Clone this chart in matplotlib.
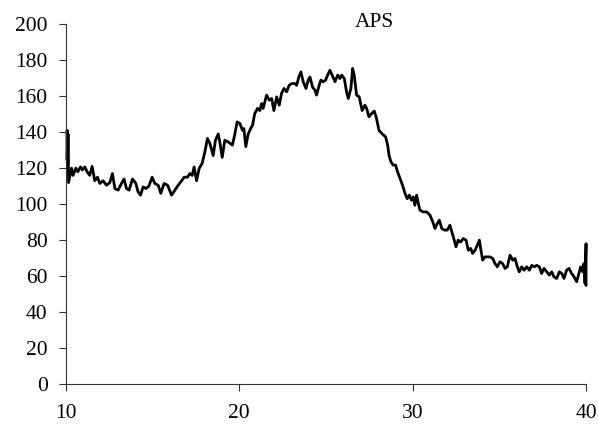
import matplotlib
matplotlib.use('Agg')
import matplotlib.pyplot as plt

# APS trace, values
time = [10.06, 10.08, 10.11, 10.13, 10.16, 10.33, 10.42, 10.58, 10.69, 10.85,
        10.96, 11.10, 11.23, 11.38, 11.52, 11.67, 11.83, 11.96, 12.15, 12.35,
        12.54, 12.69, 12.83, 13.02, 13.21, 13.36, 13.50, 13.65, 13.85, 14.04,
        14.17, 14.31, 14.46, 14.62, 14.79, 14.98, 15.13, 15.33, 15.48, 15.67,
        15.87, 16.10, 16.29, 16.48, 16.68, 16.83, 17.02, 17.15, 17.29, 17.40,
        17.54, 17.69, 17.86, 18.02, 18.17, 18.31, 18.50, 18.63, 18.79, 18.88,
        19.02, 19.17, 19.36, 19.61, 19.75, 19.88, 20.04, 20.19, 20.27, 20.38,
        20.52, 20.66, 20.77, 20.90, 21.06, 21.19, 21.29, 21.38, 21.58, 21.73,
        21.87, 22.00, 22.16, 22.31, 22.44, 22.58, 22.73, 22.88, 23.02, 23.21,
        23.31, 23.44, 23.56, 23.69, 23.85, 23.98, 24.08, 24.23, 24.37, 24.46,
        24.61, 24.71, 24.85, 24.98, 25.10, 25.23, 25.36, 25.52, 25.68, 25.81,
        25.91, 26.06, 26.19, 26.29, 26.44, 26.54, 26.63, 26.77, 26.92, 27.09,
        27.25, 27.35, 27.48, 27.64, 27.79, 27.92, 28.06, 28.25, 28.44, 28.56,
        28.64, 28.75, 28.88, 29.02, 29.13, 29.27, 29.42, 29.56, 29.69, 29.81,
        29.94, 30.04, 30.13, 30.23, 30.33, 30.42, 30.61, 30.81, 31.00, 31.16,
        31.29, 31.42, 31.54, 31.68, 31.83, 32.00, 32.15, 32.29, 32.40, 32.50,
        32.63, 32.77, 32.92, 33.08, 33.21, 33.35, 33.46, 33.60, 33.73, 33.85,
        33.94, 34.04, 34.17, 34.31, 34.46, 34.62, 34.75, 34.88, 35.04, 35.19,
        35.33, 35.46, 35.62, 35.77, 35.90, 36.04, 36.15, 36.29, 36.42, 36.58,
        36.73, 36.87, 37.02, 37.15, 37.31, 37.44, 37.58, 37.73, 37.88, 38.02,
        38.15, 38.31, 38.46, 38.60, 38.73, 38.88, 39.02, 39.17, 39.31, 39.46,
        39.56, 39.69, 39.81, 39.88, 39.94, 40.00, 40.00]
aps = [125, 141, 123, 139, 112, 120, 116, 120, 118, 120.7,
       119, 120.7, 118, 116, 121, 113, 115, 111.5, 113, 110.5,
       112, 117, 108.7, 107.8, 111.5, 114, 108.7, 107.8, 114, 111.5,
       106.8, 105, 109.6, 108.7, 110, 115, 111.5, 110.5, 106, 111.5,
       110.5, 105, 107.8, 110.5, 113, 115, 115, 117, 116, 120.7,
       113, 119.8, 122.6, 129, 136.5, 133.7, 127, 135.5, 139, 134.6,
       126, 135.5, 134.6, 132.8, 139, 145.7, 144.8, 141, 142, 132,
       139, 142, 143.9, 150.4, 153.2, 152, 155.9, 153.2, 160.6, 157.8,
       158.7, 152, 159.6, 155, 161.5, 164.3, 162.4, 166, 167, 167,
       166, 170.7, 173.5, 168, 164.3, 168.9, 170.7, 165, 163.3, 160.6,
       166, 168.9, 168, 168.9, 171.7, 174.4, 171.7, 168, 171.7, 169.8,
       171.7, 169.8, 162.4, 158.7, 164.3, 175.4, 171.7, 160.6, 159.6, 152,
       155, 153.2, 148.5, 150.4, 151.7, 147.6, 141, 139, 137.4, 132.8,
       127.2, 123.5, 121.7, 121.7, 118, 114.3, 110.5, 106, 103, 105,
       102.2, 104, 99.4, 105, 100.4, 96.7, 95.7, 95.7, 93.9, 90.2,
       86.5, 89.2, 91.1, 86.5, 85.6, 85.6, 88.3, 83.7, 80, 76.3,
       80, 79, 80.9, 80, 74.4, 75.4, 72.6, 74.4, 77.2, 80,
       74.4, 68.9, 70.7, 70.7, 70.7, 69.8, 67, 65.2, 68, 67,
       64.3, 65.2, 71.7, 68.9, 69.8, 65.2, 62.4, 65.2, 63.3, 65.2,
       63.3, 66, 65.2, 66, 65.2, 61.5, 64.3, 62.4, 60.6, 62.4,
       59.6, 58.7, 62.4, 61.5, 58.7, 63.3, 64.3, 61.5, 59.6, 56.9,
       60.6, 65.2, 62.4, 67, 56, 78, 55]

xticks = [10, 20, 30, 40]
yticks = [0, 20, 40, 60, 80, 100, 120, 140, 160, 180, 200]

plt.rcParams['font.family'] = ['Liberation Serif', 'DejaVu Serif']

fig = plt.figure(figsize=(5.98, 4.24), dpi=100)
ax = fig.add_axes([0.110, 0.094, 0.870, 0.849])

ax.plot(time, aps, color='black', linewidth=2.0, clip_on=False)

ax.set_xlim(10, 40)
ax.set_ylim(0, 200)
ax.set_xticks(xticks)
ax.set_yticks(yticks)
ax.tick_params(axis='both', direction='out', length=5, width=0.8,
               color='#333333', labelsize=15.5)
ax.tick_params(axis='x', pad=9)
ax.tick_params(axis='y', pad=8)

for side in ['top', 'right']:
    ax.spines[side].set_visible(False)
for side in ['left', 'bottom']:
    ax.spines[side].set_linewidth(0.8)
    ax.spines[side].set_color('#333333')

ax.text(0.594, 1.006, 'APS', transform=ax.transAxes, fontsize=15.5,
        ha='center', va='center')

fig.savefig('out.png', dpi=100)
